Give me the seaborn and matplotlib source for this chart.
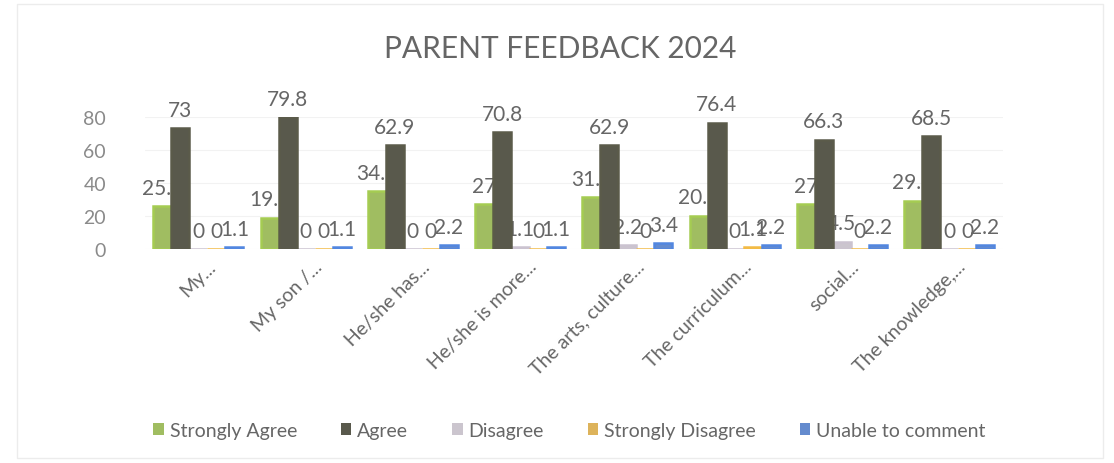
import matplotlib
matplotlib.use("Agg")
import matplotlib.pyplot as plt
import matplotlib.transforms as mtransforms
import seaborn as sns
import pandas as pd
import numpy as np

categories = ["My...", "My son /...", "He/she has...", "He/she is more...",
              "The arts, culture...", "The curriculum...", "social...", "The knowledge,..."]
series_names = ["Strongly Agree", "Agree", "Disagree", "Strongly Disagree", "Unable to comment"]
strongly_agree = [25.9, 19.1, 34.9, 27, 31.5, 20.2, 27, 29.2]
agree = [73, 79.8, 62.9, 70.8, 62.9, 76.4, 66.3, 68.5]
disagree = [0, 0, 0, 1.1, 2.2, 0, 4.5, 0]
strongly_disagree = [0, 0, 0, 0, 0, 1.1, 0, 0]
unable = [1.1, 1.1, 2.2, 1.1, 3.4, 2.2, 2.2, 2.2]
yticks = [0, 20, 40, 60, 80]
colors = ["#a5cc52", "#5b5b4a", "#cbc3d0", "#f3bb45", "#5287e0"]

series_values = [strongly_agree, agree, disagree, strongly_disagree, unable]
rows = []
for name, vals in zip(series_names, series_values):
    for cat, v in zip(categories, vals):
        rows.append({"category": cat, "series": name, "value": v})
df = pd.DataFrame(rows)

sns.set_theme(style="white")
plt.rcParams["font.family"] = ["Lato", "DejaVu Sans"]
text_gray = "#666666"

fig = plt.figure(figsize=(11.14, 4.64), dpi=100)
ax = fig.add_axes([0.13, 0.461, 0.77, 0.285])

sns.barplot(data=df, x="category", y="value", hue="series", palette=colors,
            hue_order=series_names, order=categories, width=0.84, ax=ax,
            errorbar=None, legend=True, edgecolor=None, linewidth=0)

# thin floor slab so zero-valued bars stay visible
for cont, col in zip(ax.containers, colors):
    for patch in cont:
        patch.set_edgecolor(col)
        patch.set_linewidth(1.8)

# Agree bars sit in front of the neighbouring Strongly Agree labels
for patch in ax.containers[1]:
    patch.set_zorder(3.5)

for cont in ax.containers:
    labels = [f"{v:g}" for v in cont.datavalues]
    ax.bar_label(cont, labels=labels, padding=6, fontsize=15, color=text_gray)

ax.set_ylim(0, 80)
ax.set_yticks(yticks)
ax.set_yticklabels([str(t) for t in yticks], fontsize=14, color="#8a8a8a")
ax.yaxis.grid(True, color="#f2f2f2", linewidth=0.8)
ax.set_axisbelow(True)
ax.set_xlabel("")
ax.set_ylabel("")
for s in ax.spines.values():
    s.set_visible(False)
ax.tick_params(axis="y", length=0, pad=28)
ax.tick_params(axis="x", length=0, pad=6)
ax.set_xticks(range(len(categories)))
ax.set_xticklabels(categories, rotation=45, ha="right", rotation_mode="anchor",
                   fontsize=14, color=text_gray)
shift = mtransforms.ScaledTranslation(8 / 100, 0, fig.dpi_scale_trans)
for lbl in ax.get_xticklabels():
    lbl.set_transform(lbl.get_transform() + shift)

fig.text(0.503, 0.895, "PARENT FEEDBACK 2024", ha="center", va="center",
         fontsize=21.5, color=text_gray)

handles, lbls = ax.get_legend_handles_labels()
ax.legend_.remove()
fig.legend(handles, lbls, loc="center", bbox_to_anchor=(0.511, 0.07), ncol=5,
           frameon=False, fontsize=14, handlelength=0.55, handleheight=0.55,
           columnspacing=2.25, handletextpad=0.3, labelcolor=text_gray)

fig.patches.append(plt.Rectangle((0.015, 0.01), 0.975, 0.98, transform=fig.transFigure,
                                 fill=False, edgecolor="#ececec", linewidth=1))

fig.savefig("out.png", dpi=100, facecolor="white")
